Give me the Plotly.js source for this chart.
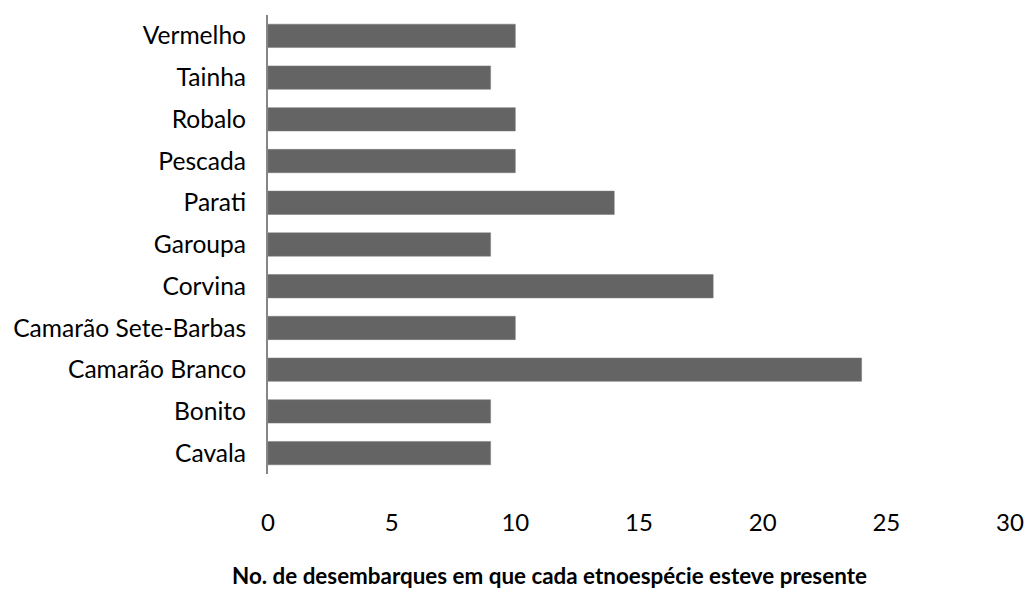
<!DOCTYPE html>
<html>
<head>
<meta charset="utf-8">
<script src="https://cdn.plot.ly/plotly-3.0.1.min.js"></script>
<style>html,body{margin:0;padding:0;background:#fff;}#chart{width:1026px;height:590px;}</style>
</head>
<body>
<div id="chart"></div>
<script>
const categories = ["Cavala","Bonito","Camarão Branco","Camarão Sete-Barbas","Corvina","Garoupa","Parati","Pescada","Robalo","Tainha","Vermelho"];
const values = [9, 9, 24, 10, 18, 9, 14, 10, 10, 9, 10];
const xTicks = [0, 5, 10, 15, 20, 25, 30];
const xTitle = "No. de desembarques em que cada etnoespécie esteve presente";

const FONT = "Lato, Carlito, 'Liberation Sans', sans-serif";

Plotly.newPlot("chart", [{
  type: "bar",
  orientation: "h",
  y: categories,
  x: values,
  marker: {color: "#646464", line: {color: "#7a7a7a", width: 0.5}},
  hoverinfo: "none"
}], {
  width: 1026, height: 590,
  margin: {l: 268, r: 16, t: 15, b: 116},
  paper_bgcolor: "#fff", plot_bgcolor: "#fff",
  bargap: 0.44,
  showlegend: false,
  font: {family: FONT, size: 24, color: "#000"},
  xaxis: {
    range: [0, 30], tickvals: xTicks, ticktext: xTicks.map(String),
    showgrid: false, zeroline: false, showline: false, ticks: "",
    ticklabelstandoff: 32, fixedrange: true,
    tickfont: {family: FONT, size: 24, color: "#000"}
  },
  yaxis: {
    type: "category", categoryorder: "array", categoryarray: categories,
    showgrid: false, zeroline: false, showline: true, linecolor: "#868686", linewidth: 2,
    ticks: "", ticklabelstandoff: 15, fixedrange: true,
    tickfont: {family: FONT, size: 24.6, color: "#000"}
  },
  annotations: [{
    text: "<b>" + xTitle + "</b>",
    xref: "paper", yref: "paper", x: 0.379, y: 0, yshift: -101,
    xanchor: "center", yanchor: "middle", showarrow: false,
    font: {family: FONT, size: 22.4, color: "#000"}
  }]
}, {displayModeBar: false, staticPlot: true});
</script>
</body>
</html>
